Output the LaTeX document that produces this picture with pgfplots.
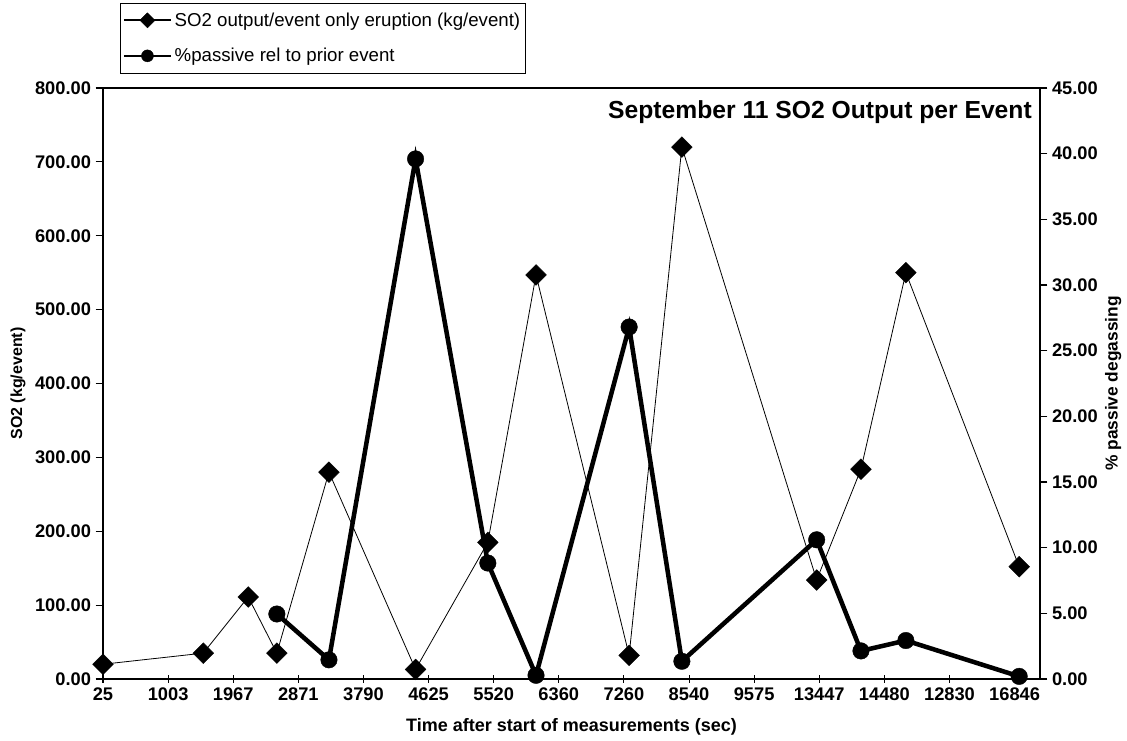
\documentclass[border=0pt]{standalone}
\usepackage{pgfplots}
\usepackage{pgfplotstable}
\pgfplotsset{compat=1.18}
\usepackage{fontspec}
\setmainfont{Liberation Sans}

\pgfplotstableread{
x y
0.00 20
1.54 35
2.23 111
2.67 35
3.47 280
4.80 13
5.91 185
6.65 547
8.08 32
8.89 720
10.96 134
11.64 284
12.33 550
14.07 152
}\diamonds

\pgfplotstableread{
x y
2.67 4.95
3.47 1.46
4.80 39.6
5.91 8.83
6.65 0.28
8.08 26.8
8.89 1.35
10.96 10.6
11.64 2.14
12.33 2.93
14.07 0.2
}\circles

\pgfplotsset{
  common/.style={
    scale only axis, width=702.75pt, height=443.25pt,
    xmin=0, xmax=14.39, clip=false,
    axis line style={line width=1.8pt},
    tick style={black, line width=0.8pt},
    major tick length=5.5pt,
    tick label style={font=\bfseries\fontsize{13.7}{16}\selectfont},
    /pgf/number format/assume math mode=true,
    yticklabel style={/pgf/number format/.cd, fixed, fixed zerofill, precision=2, 1000 sep={}},
  }
}

\begin{document}
\begin{tikzpicture}
\begin{axis}[common, name=ax,
  ymin=0, ymax=800, ytick={0,100,...,800},
  ytick pos=left, xtick pos=bottom,
  xtick={0,...,14},
  xticklabels={25,1003,1967,2871,3790,4625,5520,6360,7260,8540,9575,13447,14480,12830,16846},
  xtick align=center, ytick align=outside,
  ylabel={SO2 (kg/event)},
  ylabel style={font=\bfseries\fontsize{12}{14}\selectfont, at={(axis description cs:-0.0907,0.5)}, anchor=center},
  xlabel={Time after start of measurements (sec)},
  xlabel style={font=\bfseries\fontsize{13.5}{16}\selectfont, at={(axis description cs:0.5,-0.081)}, anchor=center},
  legend cell align=left,
  legend style={at={(axis description cs:0.018,1.144)}, anchor=north west, draw=black, line width=0.5pt,
    font=\fontsize{14}{16}\selectfont, row sep=11pt, inner xsep=2pt, inner ysep=5pt},
  legend image code/.code={\draw[mark repeat=2,mark phase=2,#1] plot coordinates {(0cm,0cm)(0.62cm,0cm)(1.24cm,0cm)};},
]
\addplot[black, line width=0.6pt, mark=square*, mark size=5.5pt, forget plot,
  mark options={rotate=45, solid, fill=black, line width=0.3pt}] table[x=x,y=y] {\diamonds};
\addlegendimage{black, line width=1.6pt, mark=square*, mark size=4pt, mark options={rotate=45, fill=black, line width=0.3pt}}
\addlegendentry{SO2 output/event only eruption (kg/event)}
\addlegendimage{black, line width=1.6pt, mark=*, mark size=4.5pt, mark options={fill=black, line width=0.3pt}}
\addlegendentry{\%passive rel to prior event}
\node[anchor=north east, font=\bfseries\fontsize{18.5}{21}\selectfont, inner sep=0pt] at (axis description cs:0.9915,0.979) {September 11 SO2 Output per Event};
\end{axis}
\begin{axis}[common,
  ymin=0, ymax=45, ytick={0,5,...,45},
  axis y line*=right, axis x line=none, ytick align=outside,
  ylabel={\% passive degassing},
  ylabel style={font=\bfseries\fontsize{13}{15}\selectfont, at={(axis description cs:1.078,0.5)}, anchor=center, rotate=0},
]
\addplot[black, line width=3.4pt, mark=*, mark size=6.2pt,
  mark options={solid, fill=black, line width=0.3pt}] table[x=x,y=y] {\circles};
\end{axis}
\pgfresetboundingbox
\path ([shift={(-77.25pt,-45.75pt)}]ax.south west) rectangle ([shift={(65.25pt,66pt)}]ax.north east);
\end{tikzpicture}
\end{document}
